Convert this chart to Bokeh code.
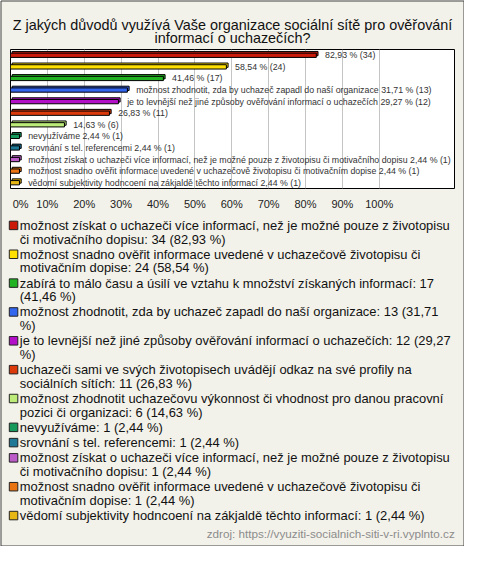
import unicodedata
from bokeh.plotting import figure
from bokeh.models import Range1d, FixedTicker, PrintfTickFormatter
from bokeh.core.properties import value
from bokeh.embed import file_html
from bokeh.resources import INLINE

# ---------------- data ----------------
title_text = "Z jakých důvodů využívá Vaše organizace sociální sítě pro ověřování informací o uchazečích?"
categories = [
    "možnost získat o uchazeči více informací, než je možné pouze z životopisu či motivačního dopisu",
    "možnost snadno ověřit informace uvedené v uchazečově životopisu či motivačním dopise",
    "zabírá to málo času a úsilí ve vztahu k množství získaných informací",
    "možnost zhodnotit, zda by uchazeč zapadl do naší organizace",
    "je to levnější než jiné způsoby ověřování informací o uchazečích",
    "uchazeči sami ve svých životopisech uvádějí odkaz na své profily na sociálních sítích",
    "možnost zhodnotit uchazečovu výkonnost či vhodnost pro danou pracovní pozici či organizaci",
    "nevyužíváme",
    "srovnání s tel. referencemi",
    "možnost získat o uchazeči více informací, než je možné pouze z životopisu či motivačního dopisu",
    "možnost snadno ověřit informace uvedené v uchazečově životopisu či motivačním dopise",
    "vědomí subjektivity hodncoení na zákjaldě těchto informací",
]
counts = [34, 24, 17, 13, 12, 11, 6, 1, 1, 1, 1, 1]
percents = [82.93, 58.54, 41.46, 31.71, 29.27, 26.83, 14.63, 2.44, 2.44, 2.44, 2.44, 2.44]
colors = ["#CC1A0A", "#FFE000", "#22B322", "#3366EE", "#B30FC9", "#DD3A0C",
          "#BDEB7A", "#159A5C", "#1E7896", "#BB5CC9", "#EB7412", "#E6B614"]
x_ticks = [0, 10, 20, 30, 40, 50, 60, 70, 80, 90, 100]
source_text = "zdroj: https://vyuziti-socialnich-siti-v-ri.vyplnto.cz"

# ---------------- styling ----------------
BG = "#F3F2EA"
FONT = "Liberation Sans"
W, H = 464, 546
FL, FR, FT, FH = 10, 10, 49, 139          # plot box placement (px)
FW = W - FL - FR
TITLE_PX, BAR_LBL_PX, TICK_PX, LEG_PX, SRC_PX = 14.4, 8.8, 11, 12.95, 11.7
X_END = 120.4

# approximate Arial advance widths (em) used for text wrapping
_EM = dict(a=.556, b=.556, c=.5, d=.556, e=.556, f=.278, g=.556, h=.556, i=.222, j=.222,
           k=.5, l=.222, m=.833, n=.556, o=.556, p=.556, q=.556, r=.333, s=.5, t=.278,
           u=.556, v=.5, w=.722, x=.5, y=.5, z=.5, Z=.611, V=.667)
_EM.update({" ": .278, ",": .278, ".": .278, ":": .278, "(": .333, ")": .333,
            "%": .889, "-": .333, "/": .278, "?": .556})


def text_em(s):
    return sum(_EM.get(unicodedata.normalize("NFD", ch)[0], .556) for ch in s)


def wrap(s, limit_em):
    lines, cur = [], ""
    for w in s.split(" "):
        cand = w if not cur else cur + " " + w
        if not cur or text_em(cand) <= limit_em:
            cur = cand
        else:
            lines.append(cur)
            cur = w
    lines.append(cur)
    return lines


def fmt(v):
    return f"{v:.2f}".replace(".", ",")


n = len(categories)
ys = list(range(1, n + 1))
p = figure(width=W, height=H, x_range=Range1d(0, X_END), y_range=Range1d(n + 0.5, 0.5),
           y_axis_location=None, min_border_left=FL, min_border_right=FR,
           min_border_top=FT, min_border_bottom=H - FT - FH,
           output_backend="svg", toolbar_location=None)
# canvas-pixel coordinate system for the texts around the plot box
p.extra_x_ranges = {"cx": Range1d(FL, FL + FW)}
p.extra_y_ranges = {"cy": Range1d(FT + FH, FT)}

p.background_fill_color = "white"
p.border_fill_color = BG
p.outline_line_color = "black"
p.outline_line_width = 1
p.ygrid.visible = False
p.xgrid.ticker = FixedTicker(ticks=x_ticks[1:])
p.xgrid.grid_line_color = "#C4C4C4"
p.xaxis.ticker = FixedTicker(ticks=x_ticks)
p.xaxis.formatter = PrintfTickFormatter(format="%d%%")
# first label sits just inside the box edge
p.xaxis.major_label_overrides = {0: "\u00a0\u00a0\u00a0\u00a00%"}
p.xaxis.axis_line_color = None
p.xaxis.major_tick_line_color = None
p.xaxis.minor_tick_line_color = None
p.xaxis.major_tick_out = 0
p.xaxis.major_tick_in = 0
p.xaxis.minor_tick_out = 0
p.xaxis.major_label_standoff = 9
p.xaxis.major_label_text_font = FONT
p.xaxis.major_label_text_font_size = f"{TICK_PX}px"
p.xaxis.major_label_text_color = "#222222"

# ---------------- bars ----------------
ppu = FW / X_END
band_px = FH / n
dx = 1.7 / ppu
dy = 1.7 / band_px
bh = 0.37

p.hbar(y=[y - dy for y in ys], left=[dx] * n, right=[v + dx for v in percents], height=bh,
       fill_color=colors, line_color="black", line_width=1)
p.hbar(y=ys, left=0, right=percents, height=bh,
       fill_color=colors, line_color="black", line_width=1)

LBL_OFF = 8.7
labels = []
for c, k, v in zip(categories, counts, percents):
    short = f"{fmt(v)} % ({k})"
    full = f"{c} {short}"
    end = v * ppu + LBL_OFF + text_em(full) * BAR_LBL_PX
    labels.append(full if end <= FW + 4 else short)
p.text(x=percents, y=ys, text=labels, x_offset=LBL_OFF, text_baseline="middle",
       text_font=value(FONT), text_font_size=f"{BAR_LBL_PX}px", text_color="#333333")

CANVAS = dict(x_range_name="cx", y_range_name="cy", level="overlay")

# ---------------- title ----------------
tl = wrap(title_text, 31.0)
p.text(x=[W / 2] * len(tl), y=[24.3 + 13.6 * i for i in range(len(tl))], text=tl,
       text_align="center", text_baseline="alphabetic", text_font=value(FONT),
       text_font_size=f"{TITLE_PX}px", text_color="#111111", **CANVAS)

# ---------------- legend ----------------
LINE_H, GAP = 13.6, 1.65
cur = 224.9
sq_y, line_x, line_y, line_t = [], [], [], []
for c, k, v in zip(categories, counts, percents):
    lines = wrap(f"{c}: {k} ({fmt(v)} %)", 33.4)
    sq_y.append(cur)
    for i, ln in enumerate(lines):
        line_y.append(cur + i * LINE_H)
        line_t.append(ln)
        line_x.append(19.3)
    cur += len(lines) * LINE_H + GAP
p.rect(x=[13.05] * n, y=sq_y, width=8.5, height=8.5, fill_color=colors,
       line_color="#222222", line_width=1, **CANVAS)
p.text(x=line_x, y=line_y, text=line_t, text_baseline="middle", text_font=value(FONT),
       text_font_size=f"{LEG_PX}px", text_color="#111111", **CANVAS)
p.text(x=[454.3], y=[533.4], text=[source_text], text_align="right", text_baseline="middle",
       text_font=value(FONT), text_font_size=f"{SRC_PX}px", text_color="#8C8C8C", **CANVAS)

# outer frame of the whole picture
p.rect(x=[W / 2], y=[H / 2], width=W - 1, height=H - 1, fill_color=None,
       line_color="#404040", line_width=1, **CANVAS)

open("out.html", "w").write(file_html(p, INLINE))
